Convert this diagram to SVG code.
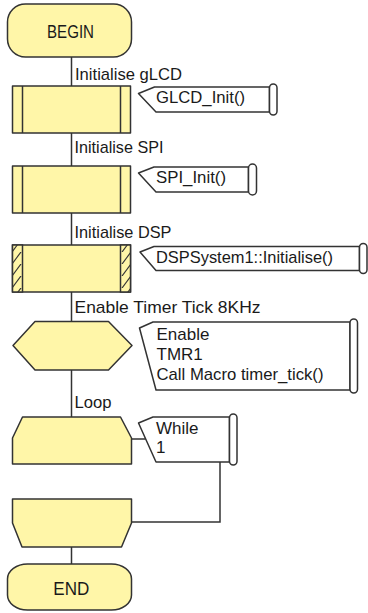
<svg xmlns="http://www.w3.org/2000/svg" width="368" height="613" viewBox="0 0 368 613">
  <style>
    .shape { fill: #fff6a8; stroke: #333; stroke-width: 1.5; stroke-linejoin: round; }
    .note { fill: #ffffff; stroke: #333; stroke-width: 1.5; stroke-linejoin: round; }
    .inner { fill: none; stroke: #333; stroke-width: 1.5; }
    .wire { fill: none; stroke: #333; stroke-width: 1.5; }
    text { font-family: "Liberation Sans", Arial, sans-serif; fill: #1a1a1a; }
    .lbl { font-size: 17px; }
    .cmt { font-size: 17px; }
    .term { font-size: 19px; text-anchor: middle; }
  </style>
  <defs>
    <pattern id="hatch" patternUnits="userSpaceOnUse" x="0" y="0" width="11" height="12">
      <rect width="11" height="12" fill="#fff6a8"/>
      <path d="M1,12 L10,0" stroke="#333" stroke-width="1.2"/>
    </pattern>
  </defs>

  <!-- connectors -->
  <g id="connectors">
    <line class="wire" x1="71.5" y1="57" x2="71.5" y2="86"/>
    <line class="wire" x1="71.5" y1="133" x2="71.5" y2="166"/>
    <line class="wire" x1="71.5" y1="213" x2="71.5" y2="245"/>
    <line class="wire" x1="71.5" y1="292" x2="71.5" y2="321.5"/>
    <line class="wire" x1="71.5" y1="370" x2="71.5" y2="417"/>
    <line class="wire" x1="71.5" y1="547" x2="71.5" y2="564"/>
    <!-- loop condition link and return path -->
    <line class="wire" x1="131.5" y1="439" x2="145.5" y2="439"/>
    <polyline class="wire" points="220,462 220,522 131.5,522"/>
  </g>

  <!-- start terminator -->
  <g id="begin">
    <rect class="shape" x="7.5" y="4" width="124" height="53" rx="18" ry="18"/>
    <text class="term" x="70.5" y="38" textLength="47" lengthAdjust="spacingAndGlyphs">BEGIN</text>
  </g>

  <!-- gLCD init call -->
  <g id="init-glcd">
    <text class="lbl" x="75" y="80" textLength="107" lengthAdjust="spacingAndGlyphs">Initialise gLCD</text>
    <rect class="shape" x="12.5" y="86" width="118" height="47"/>
    <line class="inner" x1="22.5" y1="86" x2="22.5" y2="133"/>
    <line class="inner" x1="120.5" y1="86" x2="120.5" y2="133"/>
    <polygon class="note" points="154.5,87 269.5,87 269.5,112 156,112 138.5,93.5"/>
    <rect class="note" x="269.5" y="84" width="7.5" height="31" rx="3.75" ry="3.75"/>
    <text class="cmt" x="156" y="103" textLength="89" lengthAdjust="spacingAndGlyphs">GLCD_Init()</text>
  </g>

  <!-- SPI init call -->
  <g id="init-spi">
    <text class="lbl" x="74.5" y="153" textLength="89" lengthAdjust="spacingAndGlyphs">Initialise SPI</text>
    <rect class="shape" x="12.5" y="166" width="118" height="47"/>
    <line class="inner" x1="22.5" y1="166" x2="22.5" y2="213"/>
    <line class="inner" x1="120.5" y1="166" x2="120.5" y2="213"/>
    <polygon class="note" points="154,167 248.5,167 248.5,192 156,192 138.5,173"/>
    <rect class="note" x="248.5" y="164" width="8" height="31" rx="4" ry="4"/>
    <text class="cmt" x="156" y="183" textLength="70" lengthAdjust="spacingAndGlyphs">SPI_Init()</text>
  </g>

  <!-- DSP init macro call -->
  <g id="init-dsp">
    <text class="lbl" x="74.5" y="238" textLength="97" lengthAdjust="spacingAndGlyphs">Initialise DSP</text>
    <rect class="shape" x="12.5" y="245" width="118" height="47"/>
    <rect x="12.5" y="245" width="10" height="47" fill="url(#hatch)" stroke="#333" stroke-width="1.5"/>
    <rect x="120.5" y="245" width="10" height="47" fill="url(#hatch)" stroke="#333" stroke-width="1.5"/>
    <polygon class="note" points="154,246.5 359.5,246.5 359.5,270.5 156,270.5 140,252"/>
    <rect class="note" x="359.5" y="243.5" width="7.5" height="30" rx="3.75" ry="3.75"/>
    <text class="cmt" x="156" y="263" textLength="177" lengthAdjust="spacingAndGlyphs">DSPSystem1::Initialise()</text>
  </g>

  <!-- timer interrupt -->
  <g id="enable-timer">
    <text class="lbl" x="74.5" y="313" textLength="186" lengthAdjust="spacingAndGlyphs">Enable Timer Tick 8KHz</text>
    <polygon class="shape" points="13,345.5 35,321.5 108.5,321.5 132,345.5 108.5,370 35,370"/>
    <polygon class="note" points="153,322 350,322 350,390 156,390 139.5,328"/>
    <rect class="note" x="350" y="319" width="7.5" height="74" rx="3.75" ry="3.75"/>
    <text class="cmt" x="156.5" y="340">Enable</text>
    <text class="cmt" x="156.5" y="360">TMR1</text>
    <text class="cmt" x="156.5" y="380" textLength="167" lengthAdjust="spacingAndGlyphs">Call Macro timer_tick()</text>
  </g>

  <!-- loop start -->
  <g id="loop-start">
    <text class="lbl" x="74.5" y="408" textLength="37" lengthAdjust="spacingAndGlyphs">Loop</text>
    <polygon class="shape" points="22.5,417 120.5,417 131.5,438 131.5,464 12.5,464 12.5,438"/>
    <polygon class="note" points="153,417 229.5,417 229.5,462 156,462 138.5,423"/>
    <rect class="note" x="229.5" y="414" width="7.5" height="51" rx="3.75" ry="3.75"/>
    <text class="cmt" x="156" y="434">While</text>
    <text class="cmt" x="156" y="453">1</text>
  </g>

  <!-- loop end -->
  <g id="loop-end">
    <polygon class="shape" points="12.5,499 131.5,499 131.5,523 121.5,547 22,547 12.5,523"/>
  </g>

  <!-- end terminator -->
  <g id="end">
    <rect class="shape" x="7.5" y="564" width="124" height="46" rx="20" ry="15"/>
    <text class="term" x="71.3" y="595" textLength="36" lengthAdjust="spacingAndGlyphs">END</text>
  </g>
</svg>
